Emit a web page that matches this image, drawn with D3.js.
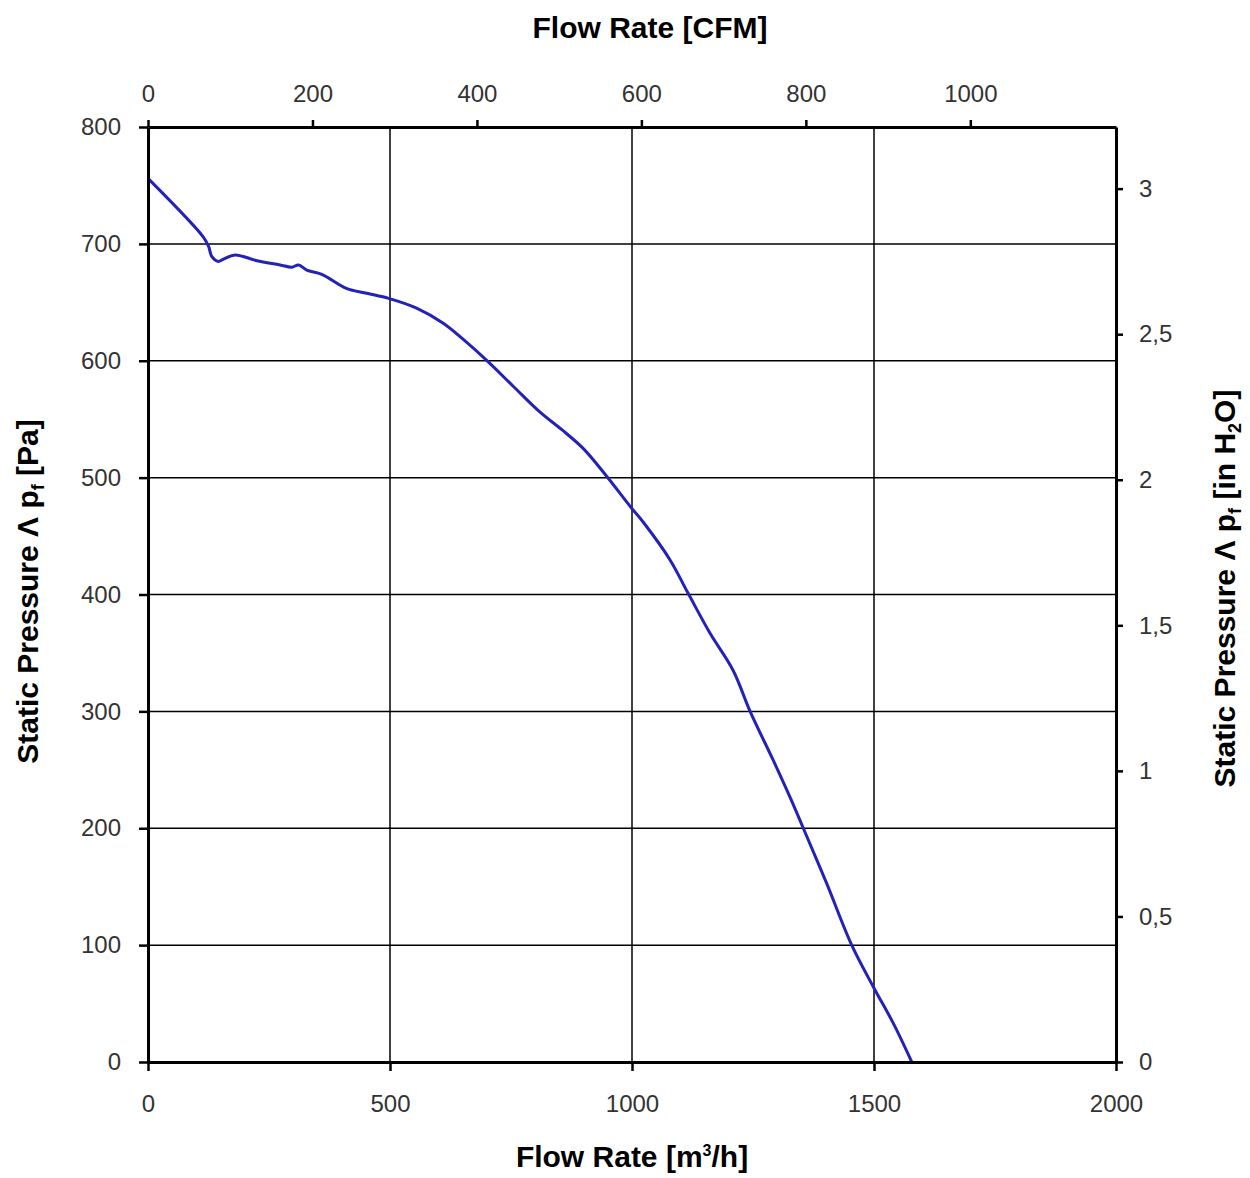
<!DOCTYPE html>
<html>
<head>
<meta charset="utf-8">
<script src="https://cdn.jsdelivr.net/npm/d3@7"></script>
<style>
  body { margin: 0; background: #fff; }
  text { font-family: "Liberation Sans", Arial, sans-serif; }
</style>
</head>
<body>
<svg id="chart" width="1250" height="1178"></svg>
<script>
// curve
const flow = [0, 114, 125, 132, 145, 156, 180, 225, 273, 297, 311, 328, 359, 410, 452, 497, 555, 610, 652, 703, 755, 810, 855, 899, 948, 999, 1023, 1078, 1116, 1161, 1209, 1244, 1292, 1326, 1354, 1402, 1454, 1499, 1540, 1578];
const pressure = [756, 706, 698, 689, 685, 687, 690.5, 685.6, 682, 680, 682, 677.6, 674, 662, 657.7, 653.4, 645, 632, 618, 599, 578, 556, 541, 525, 501, 474, 462, 430, 401, 367, 335, 300, 258, 227, 200, 153, 100, 64, 33, 0];

const flowTicks = [0, 500, 1000, 1500, 2000];
const cfmTicks = [0, 200, 400, 600, 800, 1000];
const paTicks = [0, 100, 200, 300, 400, 500, 600, 700, 800];
const inchTicks = [0, 0.5, 1, 1.5, 2, 2.5, 3];

const M3H_PER_CFM = 1.699;
const PA_PER_INH2O = 249.089;

const margin = {top: 127, left: 148, right: 134, bottom: 116};
const svg = d3.select("#chart");
const W = +svg.attr("width"), H = +svg.attr("height");
const w = W - margin.left - margin.right;
const h = H - margin.top - margin.bottom;

const x = d3.scaleLinear().domain([0, 2000]).range([0, w]);
const xTop = d3.scaleLinear().domain([0, 2000 / M3H_PER_CFM]).range([0, w]);
const y = d3.scaleLinear().domain([0, 800]).range([h, 0]);
const yRight = d3.scaleLinear().domain([0, 800 / PA_PER_INH2O]).range([h, 0]);

const g = svg.append("g").attr("transform", `translate(${margin.left},${margin.top})`);

// grid
g.append("g").selectAll("line")
    .data(paTicks.slice(1, -1))
    .join("line")
    .attr("x1", 0).attr("x2", w)
    .attr("y1", d => y(d)).attr("y2", d => y(d))
    .attr("stroke", "#000").attr("stroke-width", 1.5);

g.append("g").selectAll("line")
    .data(flowTicks.slice(1, -1))
    .join("line")
    .attr("y1", 0).attr("y2", h)
    .attr("x1", d => x(d)).attr("x2", d => x(d))
    .attr("stroke", "#000").attr("stroke-width", 1.5);

// curve
const line = d3.line()
    .x((d, i) => x(flow[i]))
    .y((d, i) => y(pressure[i]))
    .curve(d3.curveCatmullRom);

g.append("path")
    .datum(flow)
    .attr("d", line)
    .attr("fill", "none")
    .attr("stroke", "#2222b8")
    .attr("stroke-width", 3);

function styleAxis(sel) {
    sel.select(".domain").attr("stroke", "#000").attr("stroke-width", 3);
    sel.selectAll(".tick line").attr("stroke", "#000").attr("stroke-width", 2.5);
    sel.selectAll(".tick text").attr("fill", "#333").style("font-size", "24px");
}

const plain = d => String(d);
const comma = d => String(d).replace(".", ",");

g.append("g")
    .attr("transform", `translate(0,${h})`)
    .call(d3.axisBottom(x).tickValues(flowTicks).tickFormat(plain).tickSize(9).tickSizeOuter(0).tickPadding(24))
    .call(styleAxis);

g.append("g")
    .call(d3.axisTop(xTop).tickValues(cfmTicks).tickFormat(plain).tickSize(7).tickSizeOuter(0).tickPadding(18))
    .call(styleAxis);

g.append("g")
    .call(d3.axisLeft(y).tickValues(paTicks).tickFormat(plain).tickSize(9).tickSizeOuter(0).tickPadding(18))
    .call(styleAxis);

g.append("g")
    .attr("transform", `translate(${w},0)`)
    .call(d3.axisRight(yRight).tickValues(inchTicks).tickFormat(comma).tickSize(7).tickSizeOuter(0).tickPadding(16))
    .call(styleAxis);

// titles
const titleSize = "30px";

svg.append("text")
    .attr("x", 650).attr("y", 38)
    .attr("text-anchor", "middle")
    .style("font-size", titleSize).style("font-weight", "bold")
    .text("Flow Rate [CFM]");

const bottomTitle = svg.append("text")
    .attr("x", margin.left + w / 2).attr("y", 1167)
    .attr("text-anchor", "middle")
    .style("font-size", titleSize).style("font-weight", "bold");
bottomTitle.append("tspan").text("Flow Rate [m");
bottomTitle.append("tspan").attr("dy", -11).style("font-size", "16px").text("3");
bottomTitle.append("tspan").attr("dy", 11).text("/h]");

const leftTitle = svg.append("text")
    .attr("transform", `translate(38,${margin.top + h / 2 - 3}) rotate(-90)`)
    .attr("text-anchor", "middle")
    .style("font-size", titleSize).style("font-weight", "bold");
leftTitle.append("tspan").text("Static Pressure Λ p");
leftTitle.append("tspan").attr("dy", 6).style("font-size", "18px").text("f");
leftTitle.append("tspan").attr("dy", -6).text(" [Pa]");

const rightTitle = svg.append("text")
    .attr("transform", `translate(1235,${margin.top + h / 2 - 6}) rotate(-90)`)
    .attr("text-anchor", "middle")
    .style("font-size", titleSize).style("font-weight", "bold");
rightTitle.append("tspan").text("Static Pressure Λ p");
rightTitle.append("tspan").attr("dy", 6).style("font-size", "18px").text("f");
rightTitle.append("tspan").attr("dy", -6).text(" [in H");
rightTitle.append("tspan").attr("dy", 6).style("font-size", "18px").text("2");
rightTitle.append("tspan").attr("dy", -6).text("O]");
</script>
</body>
</html>
